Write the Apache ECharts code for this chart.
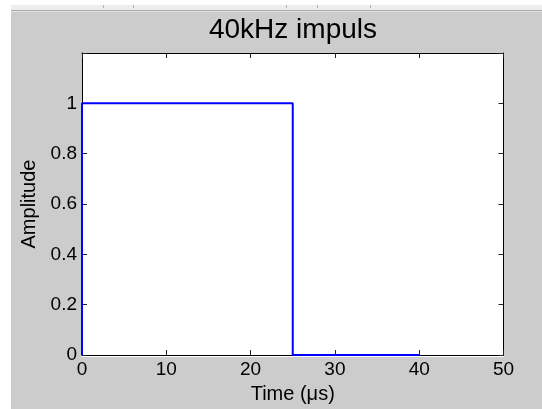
<!DOCTYPE html>
<html>
<head>
<meta charset="utf-8">
<script src="https://cdn.jsdelivr.net/npm/echarts@6/dist/echarts.min.js"></script>
<style>
html,body{margin:0;padding:0;background:#fff;width:542px;height:409px;overflow:hidden;}
#bg{position:absolute;left:11px;top:12px;width:531px;height:397px;background:#cccccc;}
#strip{position:absolute;left:11px;top:5px;width:531px;height:5px;background:#eeeeee;}
#line1{position:absolute;left:11px;top:10px;width:531px;height:1px;background:#a8a8a8;}
#line2{position:absolute;left:11px;top:11px;width:531px;height:1px;background:#e2e2e2;}
#plotbg{position:absolute;left:82px;top:53px;width:422px;height:304px;background:#fff;}
.tk{position:absolute;top:5px;width:1px;height:3px;background:#b0b0b0;}
#chart{position:absolute;left:0;top:0;width:542px;height:409px;}
</style>
</head>
<body>
<div id="bg"></div><div id="strip"></div><div id="line1"></div><div id="line2"></div>
<div id="plotbg"></div>
<div class="tk" style="left:103px"></div><div class="tk" style="left:133px"></div>
<div class="tk" style="left:286px"></div><div class="tk" style="left:317px"></div>
<div class="tk" style="left:370px"></div>
<div id="chart"></div>
<script>
// Data
const titleText = "40kHz impuls";
const xLabel = "Time (\u03bcs)";
const yLabel = "Amplitude";
const time = [0, 0, 25, 25, 40];
const amplitude = [0, 1, 1, 0, 0];
const xTicks = [0, 10, 20, 30, 40, 50];
const yTicks = [0, 0.2, 0.4, 0.6, 0.8, 1];
const yMax = 1.2;

const FONT = '"Liberation Sans", Arial, sans-serif';
const chart = echarts.init(document.getElementById('chart'), null, {renderer: 'canvas'});
const pts = time.map((t, i) => [t, amplitude[i]]);
const showY = v => yTicks.some(t => Math.abs(t - v) < 1e-9) ? String(+v.toFixed(1)) : '';

const tickStyle = () => ({show: true, inside: true, length: 5, lineStyle: {color: '#222', width: 1}});
const lineStyle = () => ({show: true, onZero: false, lineStyle: {color: '#000', width: 1}});
chart.setOption({
  backgroundColor: 'transparent',
  animation: false,
  title: {
    text: titleText, left: 288, top: 11, textAlign: 'center',
    textStyle: {fontFamily: FONT, fontSize: 28, fontWeight: 'normal', color: '#000'}
  },
  grid: {left: 82, right: 38.5, top: 53, bottom: 52, show: false},
  xAxis: [{
    type: 'value', min: xTicks[0], max: xTicks[xTicks.length - 1], interval: xTicks[1] - xTicks[0],
    position: 'bottom',
    name: xLabel, nameLocation: 'middle', nameGap: 29,
    nameTextStyle: {fontFamily: FONT, fontSize: 20, color: '#000'},
    axisLine: lineStyle(),
    axisTick: tickStyle(),
    axisLabel: {fontFamily: FONT, fontSize: 19, color: '#000', margin: 5},
    splitLine: {show: false}
  }, {
    type: 'value', min: xTicks[0], max: xTicks[xTicks.length - 1], interval: xTicks[1] - xTicks[0],
    position: 'top',
    axisLine: lineStyle(),
    axisTick: tickStyle(), axisLabel: {show: false}, splitLine: {show: false}
  }],
  yAxis: [{
    type: 'value', min: 0, max: yMax, interval: yTicks[1] - yTicks[0],
    position: 'left',
    name: yLabel, nameLocation: 'middle', nameGap: 40, nameRotate: 90,
    nameTextStyle: {fontFamily: FONT, fontSize: 20, color: '#000'},
    axisLine: lineStyle(),
    axisTick: tickStyle(),
    axisLabel: {fontFamily: FONT, fontSize: 19, color: '#000', margin: 5, formatter: showY},
    splitLine: {show: false}
  }, {
    type: 'value', min: 0, max: yMax, interval: yTicks[1] - yTicks[0],
    position: 'right',
    axisLine: lineStyle(),
    axisTick: tickStyle(),
    axisLabel: {show: false}, splitLine: {show: false}
  }],
  series: [{
    type: 'line', xAxisIndex: 0, yAxisIndex: 0, data: pts,
    showSymbol: false, clip: false,
    lineStyle: {color: '#0000ff', width: 2},
    z: 5
  }]
});
</script>
</body>
</html>
